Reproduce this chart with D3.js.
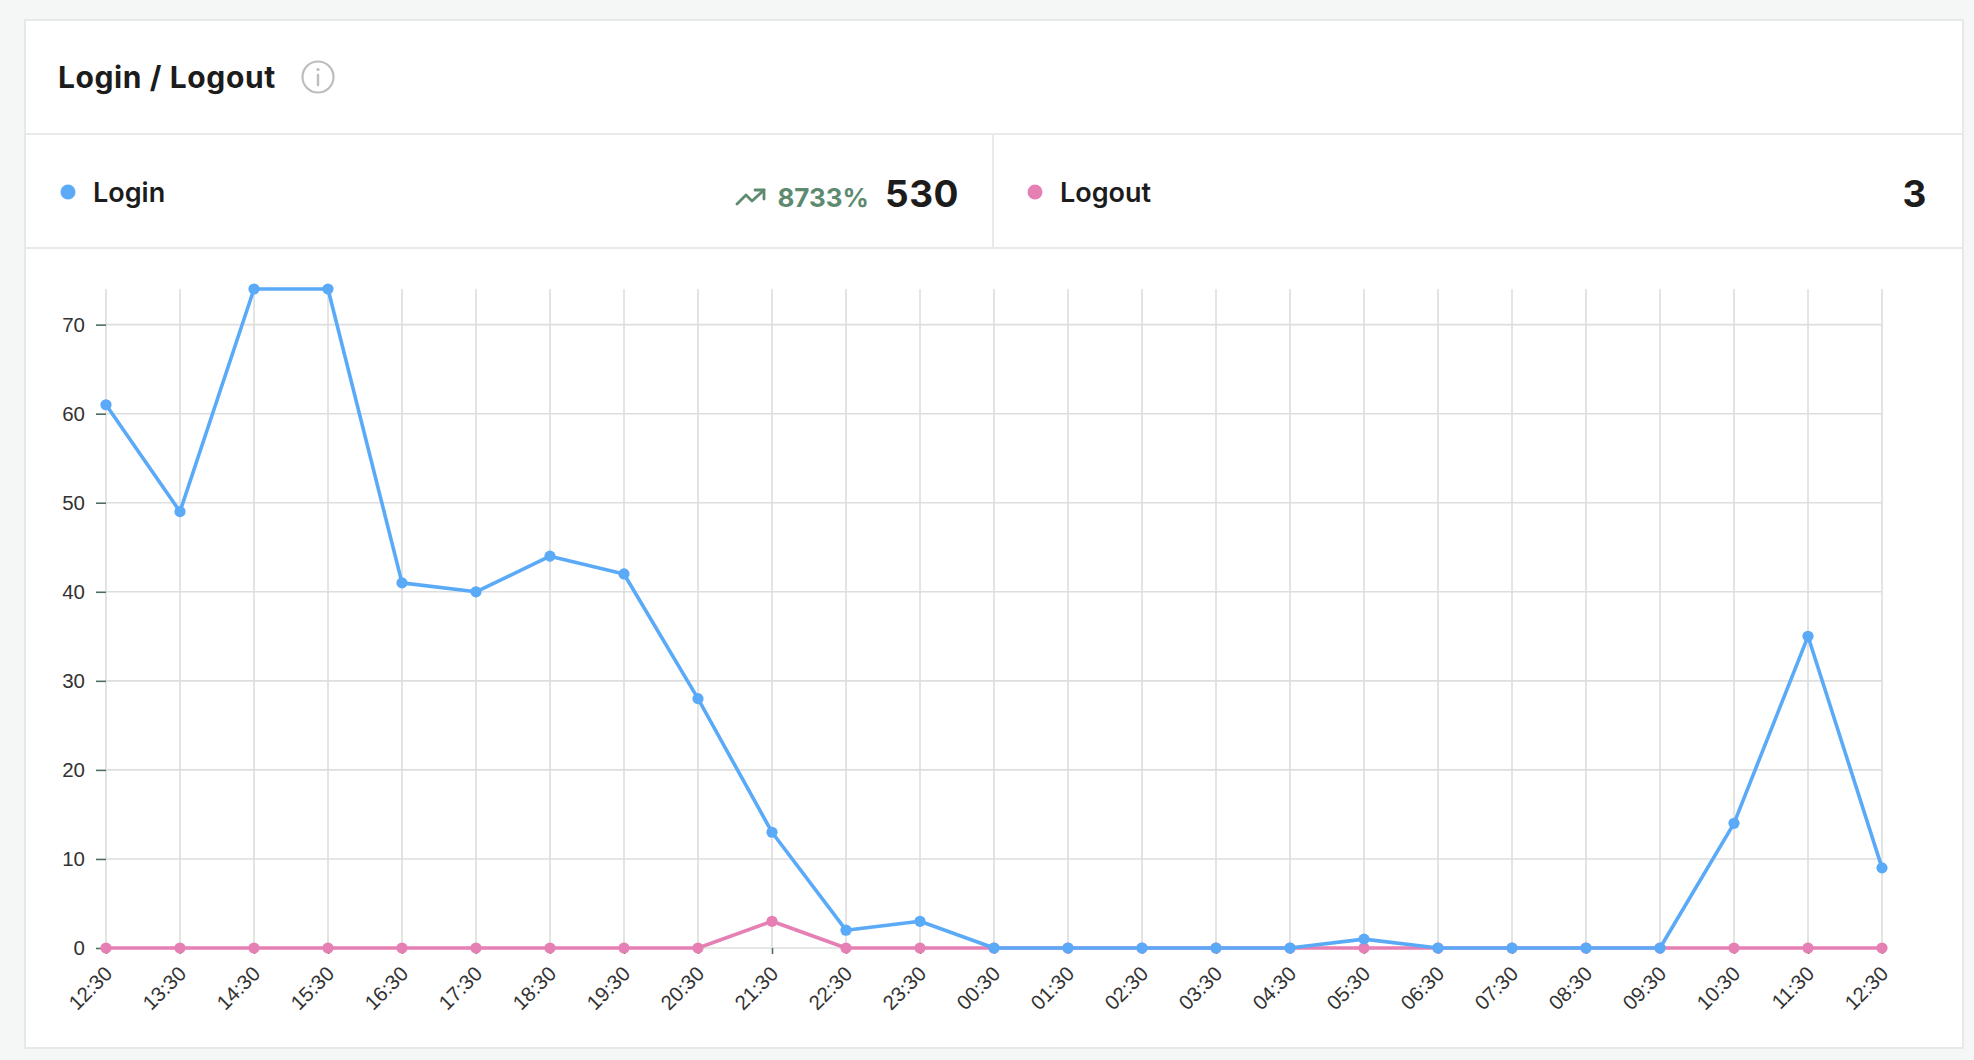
<!DOCTYPE html>
<html>
<head>
<meta charset="utf-8">
<script src="https://cdn.jsdelivr.net/npm/d3@7"></script>
<style>
  html, body { margin: 0; padding: 0; background: #f5f6f6; }
  svg { display: block; }
</style>
</head>
<body>
<svg id="chart" width="1974" height="1060"></svg>
<script>
const categories = ["12:30","13:30","14:30","15:30","16:30","17:30","18:30","19:30","20:30","21:30","22:30","23:30","00:30","01:30","02:30","03:30","04:30","05:30","06:30","07:30","08:30","09:30","10:30","11:30","12:30 "];
const loginValues = [61,49,74,74,41,40,44,42,28,13,2,3,0,0,0,0,0,1,0,0,0,0,14,35,9];
const logoutValues = [0,0,0,0,0,0,0,0,0,3,0,0,0,0,0,0,0,0,0,0,0,0,0,0,0];
const yTicks = [0,10,20,30,40,50,60,70];
const seriesNames = ["Login","Logout"];
const seriesColors = ["#5aaaf8","#e57fb4"];
const seriesTotals = ["530","3"];
const loginChange = "8733%";
const title = "Login / Logout";

const svg = d3.select("#chart");
const FONT = "Inter, 'Noto Sans', sans-serif";

// Card
svg.append("rect").attr("x",25).attr("y",20).attr("width",1938).attr("height",1028)
  .attr("fill","#fff").attr("stroke","#e7e8e8").attr("stroke-width",2);
// separators
svg.append("line").attr("x1",26).attr("x2",1962).attr("y1",134).attr("y2",134).attr("stroke","#e9e9e9").attr("stroke-width",2);
svg.append("line").attr("x1",26).attr("x2",1962).attr("y1",248).attr("y2",248).attr("stroke","#e9e9e9").attr("stroke-width",2);
svg.append("line").attr("x1",993).attr("x2",993).attr("y1",135).attr("y2",247).attr("stroke","#e9e9e9").attr("stroke-width",2);

// Title
svg.append("text").attr("x",58).attr("y",88).text(title)
  .attr("font-family",FONT).attr("font-weight",700).attr("font-size",30).attr("letter-spacing",0.6).attr("fill","#1c1c1c");
// info icon
const info = svg.append("g").attr("transform","translate(318,77)");
info.append("circle").attr("r",15.5).attr("fill","none").attr("stroke","#bdbdbd").attr("stroke-width",2.2);
info.append("line").attr("x1",0).attr("x2",0).attr("y1",-2).attr("y2",8).attr("stroke","#bdbdbd").attr("stroke-width",2.4).attr("stroke-linecap","round");
info.append("circle").attr("cx",0).attr("cy",-7.5).attr("r",1.6).attr("fill","#bdbdbd");

// Legend row
const legendX = [68, 1035];
const totalRight = [959, 1927];
seriesNames.forEach((n,i) => {
  svg.append("circle").attr("cx",legendX[i]).attr("cy",192).attr("r",7.5).attr("fill",seriesColors[i]);
  svg.append("text").attr("x",legendX[i]+25).attr("y",202).text(n)
    .attr("font-family",FONT).attr("font-weight",600).attr("font-size",27).attr("fill","#1c1c1c");
  svg.append("text").attr("x",totalRight[i]).attr("y",207).attr("text-anchor","end").text(seriesTotals[i])
    .attr("font-family",FONT).attr("font-weight",700).attr("font-size",37).attr("letter-spacing",0.5).attr("fill","#1c1c1c");
});
// change indicator
svg.append("text").attr("x",869).attr("y",207).attr("text-anchor","end").text(loginChange)
  .attr("font-family",FONT).attr("font-weight",700).attr("font-size",26).attr("fill","#5e8a70");
const trend = svg.append("g").attr("transform","translate(736,189)")
  .attr("fill","none").attr("stroke","#5e8a70").attr("stroke-width",2.8).attr("stroke-linecap","round").attr("stroke-linejoin","round");
trend.append("polyline").attr("points","1,15 10,6 16,12 28,1");
trend.append("polyline").attr("points","19,1 28,1 28,10");

// Scales
const x = d3.scalePoint().domain(categories).range([106, 1882]);
const y = d3.scaleLinear().domain([0, 74]).range([948, 289]);

// Grid
const grid = svg.append("g").attr("stroke","#dedede").attr("stroke-width",1.6);
grid.selectAll(".h").data(yTicks).join("line")
  .attr("x1",x.range()[0]).attr("x2",x.range()[1]).attr("y1",d=>y(d)).attr("y2",d=>y(d));
grid.selectAll(".v").data(categories).join("line")
  .attr("x1",d=>x(d)).attr("x2",d=>x(d)).attr("y1",y(74)).attr("y2",y(0));

// Axes
const yAxis = svg.append("g").attr("transform",`translate(${x.range()[0]},0)`)
  .call(d3.axisLeft(y).tickValues(yTicks).tickSize(10).tickPadding(11));
yAxis.select(".domain").remove();
yAxis.selectAll("line").attr("stroke","#4d6e5e").attr("stroke-width",1.6);
yAxis.selectAll("text").attr("font-family","'Liberation Sans', Arial, sans-serif").attr("font-size",20.5).attr("fill","#333");

const xAxis = svg.append("g").attr("transform",`translate(0,${y(0)})`)
  .call(d3.axisBottom(x).tickSize(6).tickFormat(d=>d.trim()));
xAxis.select(".domain").remove();
xAxis.selectAll("line").attr("stroke","#4d6e5e").attr("stroke-width",1.6);
xAxis.selectAll("text")
  .attr("font-family","'Liberation Sans', Arial, sans-serif").attr("font-size",20.5).attr("fill","#333")
  .attr("text-anchor","end").attr("x",0).attr("y",0).attr("dy",0)
  .attr("transform","translate(7,27) rotate(-45)");

// Lines
const line = d3.line().x(d=>x(d[0])).y(d=>y(d[1]));
const series = [logoutValues, loginValues];
const colors = [seriesColors[1], seriesColors[0]];
series.forEach((vals,i) => {
  const pts = categories.map((c,j)=>[c, vals[j]]);
  svg.append("path").datum(pts).attr("d",line).attr("fill","none")
    .attr("stroke",colors[i]).attr("stroke-width",3.6).attr("stroke-linejoin","round");
  svg.append("g").selectAll("circle").data(pts).join("circle")
    .attr("cx",d=>x(d[0])).attr("cy",d=>y(d[1])).attr("r",5.6).attr("fill",colors[i]);
});
</script>
</body>
</html>
